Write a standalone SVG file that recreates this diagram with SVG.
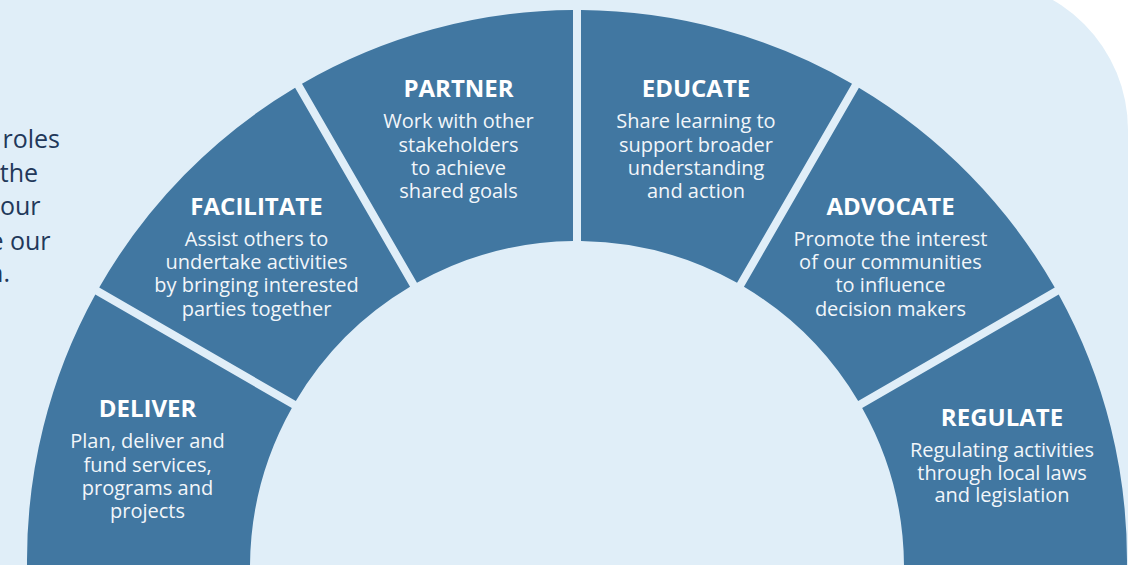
<svg xmlns="http://www.w3.org/2000/svg" width="1134" height="565" viewBox="0 0 1134 565">
  <style>
    .seg { fill: #4177a1; }
    .title { font-family: "Open Sans", "Liberation Sans", sans-serif; font-weight: 700; font-size: 24px; fill: #ffffff; text-anchor: middle; }
    .body { font-family: "Open Sans", "Liberation Sans", sans-serif; font-weight: 400; font-size: 20px; fill: #f2f6fa; text-anchor: middle; }
    .side { font-family: "Open Sans", "Liberation Sans", sans-serif; font-weight: 400; font-size: 25px; fill: #22385a; text-anchor: end; }
  </style>
  <rect x="0" y="0" width="1134" height="565" fill="#ffffff"/>
  <path id="panel" d="M0,-20 H978 A150 150 0 0 1 1128,130 V570 H0 Z" fill="#e0eef8"/>

  <g id="intro-text">
    <text class="side" x="60" y="148">roles</text>
    <text class="side" x="38" y="181.7">the</text>
    <text class="side" x="40.5" y="215">our</text>
    <text class="side" x="50.5" y="250">e our</text>
    <text class="side" x="10" y="281.7">n.</text>
  </g>

  <g id="deliver">
    <path class="seg" d="M27.06,570 L27.06,568 A550 550 0 0 1 95.32,294.52 L291.83,407.97 A327 327 0 0 0 250,568 L250,570 Z"/>
    <text class="title" x="147.5" y="416.5">DELIVER</text>
    <text class="body" x="147.5" y="448.3">Plan, deliver and</text>
    <text class="body" x="147.5" y="471.6">fund services,</text>
    <text class="body" x="147.5" y="494.9">programs and</text>
    <text class="body" x="147.5" y="518.2">projects</text>
  </g>

  <g id="facilitate">
    <path class="seg" d="M99.23,287.54 A550 550 0 0 1 295.1,87.74 L410.05,286.83 A327 327 0 0 0 295.83,401.05 Z"/>
    <text class="title" x="256.5" y="215">FACILITATE</text>
    <text class="body" x="256.5" y="246">Assist others to</text>
    <text class="body" x="256.5" y="269.2">undertake activities</text>
    <text class="body" x="256.5" y="292.4">by bringing interested</text>
    <text class="body" x="256.5" y="315.6">parties together</text>
  </g>

  <g id="partner">
    <path class="seg" d="M302,83.68 A550 550 0 0 1 573,10.01 L573,241.02 A327 327 0 0 0 416.97,282.83 Z"/>
    <text class="title" x="458.5" y="97.3">PARTNER</text>
    <text class="body" x="458.5" y="128.4">Work with other</text>
    <text class="body" x="458.5" y="151.7">stakeholders</text>
    <text class="body" x="458.5" y="175">to achieve</text>
    <text class="body" x="458.5" y="198.3">shared goals</text>
  </g>

  <g id="educate">
    <path class="seg" d="M581,10.01 A550 550 0 0 1 852,83.68 L737.03,282.83 A327 327 0 0 0 581,241.02 Z"/>
    <text class="title" x="696" y="97.3">EDUCATE</text>
    <text class="body" x="696" y="128.4">Share learning to</text>
    <text class="body" x="696" y="151.7">support broader</text>
    <text class="body" x="696" y="175">understanding</text>
    <text class="body" x="696" y="198.3">and action</text>
  </g>

  <g id="advocate">
    <path class="seg" d="M858.9,87.74 A550 550 0 0 1 1054.77,287.54 L858.17,401.05 A327 327 0 0 0 743.95,286.83 Z"/>
    <text class="title" x="890.5" y="215">ADVOCATE</text>
    <text class="body" x="890.5" y="246">Promote the interest</text>
    <text class="body" x="890.5" y="269.2">of our communities</text>
    <text class="body" x="890.5" y="292.4">to influence</text>
    <text class="body" x="890.5" y="315.6">decision makers</text>
  </g>

  <g id="regulate">
    <path class="seg" d="M1058.68,294.52 A550 550 0 0 1 1126.94,568 L1126.94,570 L904,570 L904,568 A327 327 0 0 0 862.17,407.97 Z"/>
    <text class="title" x="1002" y="426">REGULATE</text>
    <text class="body" x="1002" y="456.7">Regulating activities</text>
    <text class="body" x="1002" y="479.5">through local laws</text>
    <text class="body" x="1002" y="502.3">and legislation</text>
  </g>
</svg>
